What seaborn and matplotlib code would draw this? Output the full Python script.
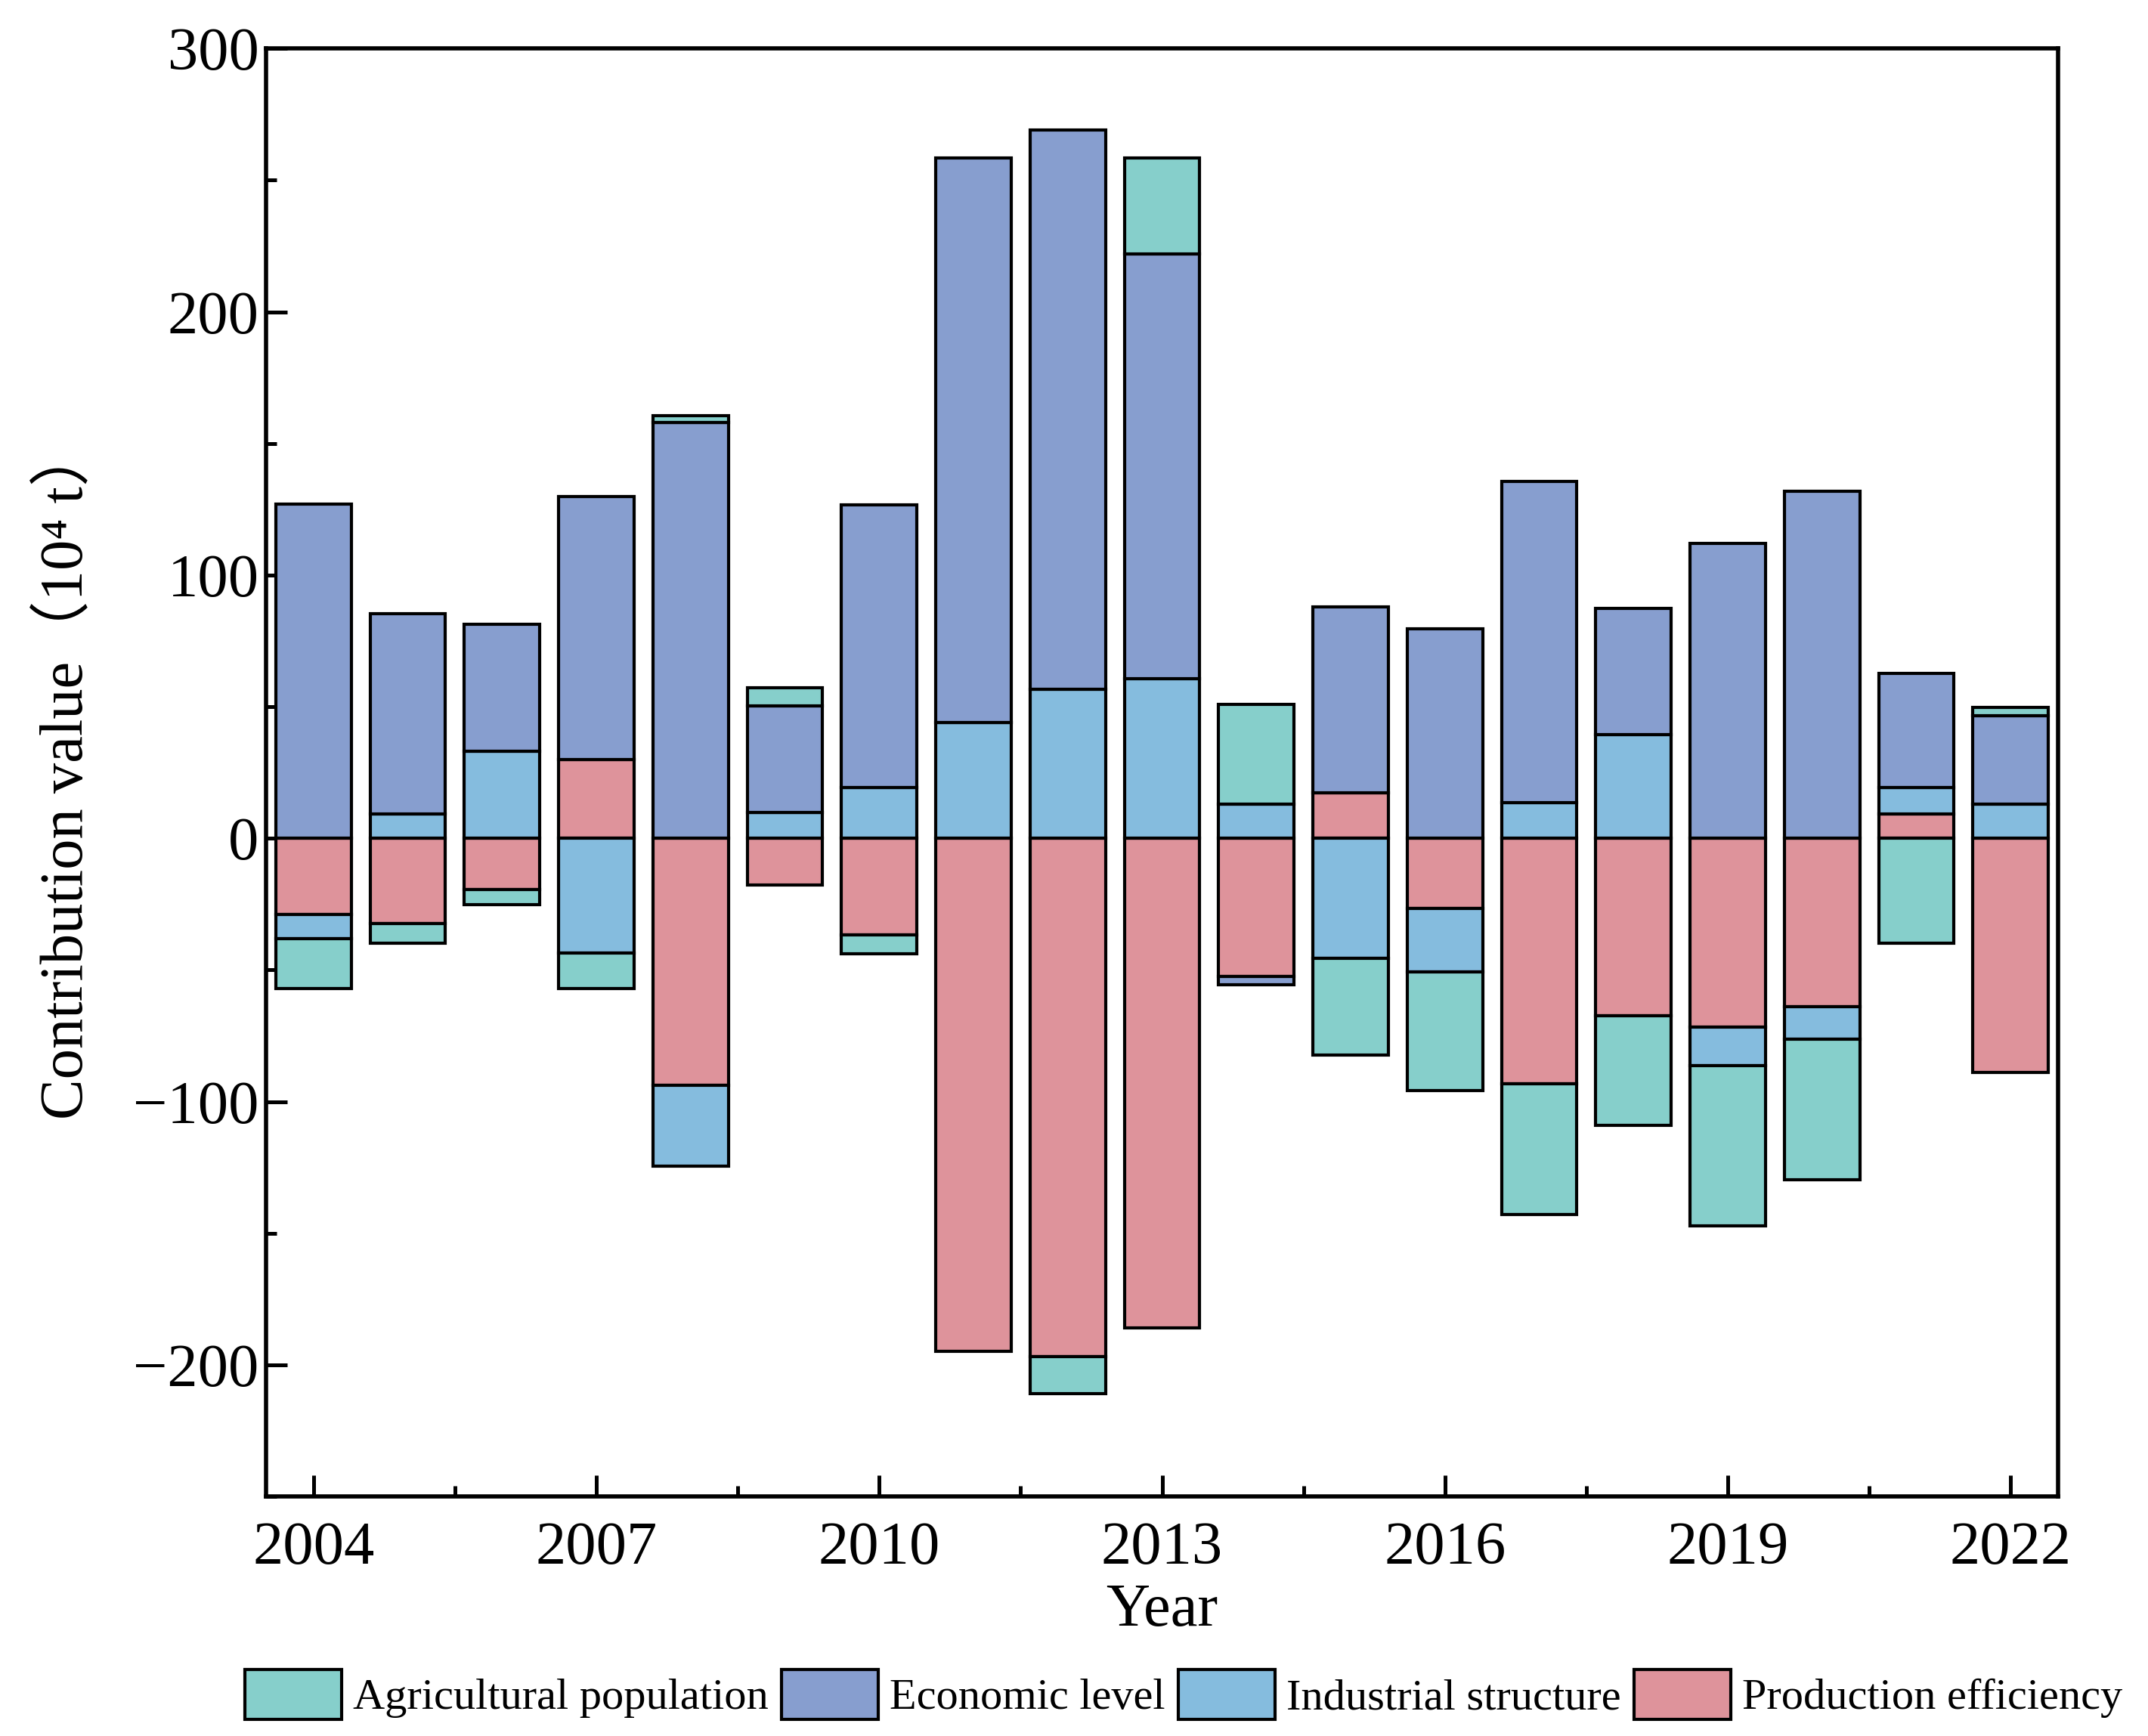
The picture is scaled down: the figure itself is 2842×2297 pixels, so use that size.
import numpy as np
import pandas as pd
import matplotlib
matplotlib.use("Agg")
import matplotlib.pyplot as plt
from matplotlib.patches import Patch
from matplotlib.ticker import MultipleLocator
import seaborn as sns

# data (10^4 t)
years = [str(y) for y in range(2004, 2023)]
agri = [-19, -7.3, -5.7, -13.6, 2.6, 6.8, -7.4, 0, -14.1, 36.6,
        37.7, -36.7, -45, -49.7, -41.4, -60.7, -53.4, -39.8, 3.1]
econ = [127, 75.9, 48.2, 100, 158.1, 40.4, 107.3, 214.6, 212.6, 161.3,
        -3.1, 70.7, 79.6, 122, 48.1, 112, 131.9, 43.4, 33.5]
indus = [-9.2, 9.4, 33, -43.5, -30.9, 9.9, 19.4, 44, 56.5, 60.7,
         13.1, -45.5, -24.1, 13.6, 39.3, -14.7, -12.5, 10, 13.1]
prod = [-28.8, -32.5, -19.4, 29.8, -93.7, -17.8, -36.6, -194.8, -196.9, -185.9,
        -52.4, 17.3, -26.7, -93.2, -67.5, -71.7, -63.9, 9.4, -89]

names = ["Agricultural population", "Economic level", "Industrial structure", "Production efficiency"]
colors = {"Agricultural population": "#86CFCB", "Economic level": "#879ECF",
          "Industrial structure": "#85BCDE", "Production efficiency": "#DE939B"}

# stacking order away from zero
stack = [("Production efficiency", prod), ("Industrial structure", indus),
         ("Economic level", econ), ("Agricultural population", agri)]

sns.set_style("ticks", {"axes.edgecolor": "black", "text.color": "black",
                        "axes.labelcolor": "black", "xtick.color": "black",
                        "ytick.color": "black"})
plt.rcParams["font.family"] = ["Liberation Serif", "Noto Sans CJK SC"]
plt.rcParams["axes.unicode_minus"] = True

fig = plt.figure(figsize=(14.21, 11.485), dpi=200)
ax = fig.add_axes([0.124, 0.138, 0.834, 0.834])

pos_base = np.zeros(len(years))
neg_base = np.zeros(len(years))
for name, vals in stack:
    v = np.array(vals, dtype=float)
    pos = np.clip(v, 0, None)
    neg = np.clip(v, None, 0)
    for part, base in ((pos, pos_base), (neg, neg_base)):
        m = part != 0
        df = pd.DataFrame({"year": np.array(years)[m], "val": part[m]})
        sns.barplot(data=df, x="year", y="val", order=years, color=colors[name],
                    saturation=1, width=0.8, bottom=base[m], edgecolor="black",
                    linewidth=1.5, errorbar=None, ax=ax)
    pos_base += pos
    neg_base += neg

ax.set_xlim(-0.5, 18.5)
ax.set_ylim(-250, 300)
ax.set_xticks(range(0, 19, 3))
ax.set_xticklabels(years[::3])
ax.xaxis.set_minor_locator(MultipleLocator(1.5))
ax.yaxis.set_major_locator(MultipleLocator(100))
ax.yaxis.set_minor_locator(MultipleLocator(50))
ax.tick_params(axis="both", which="major", direction="in", length=10, width=1.8,
               labelsize=29, top=False, right=False, colors="black")
ax.tick_params(axis="both", which="minor", direction="in", length=5, width=1.8,
               top=False, right=False, colors="black")
ax.tick_params(axis="x", which="major", pad=12)
for s in ax.spines.values():
    s.set_linewidth(2)
    s.set_color("black")

ax.set_xlabel("Year", fontsize=29, labelpad=3, color="black")
ax.set_ylabel("Contribution value（10⁴ t）", fontsize=29, labelpad=18, color="black")

handles = [Patch(facecolor=colors[n], edgecolor="black", linewidth=1.5, label=n) for n in names]
fig.legend(handles=handles, loc="center", bbox_to_anchor=(0.551, 0.024), ncol=4,
           frameon=False, fontsize=21, handlelength=2.2, handleheight=1.35,
           handletextpad=0.25, columnspacing=0.3, borderaxespad=0, labelcolor="black")

fig.savefig("out.png", dpi=200)
